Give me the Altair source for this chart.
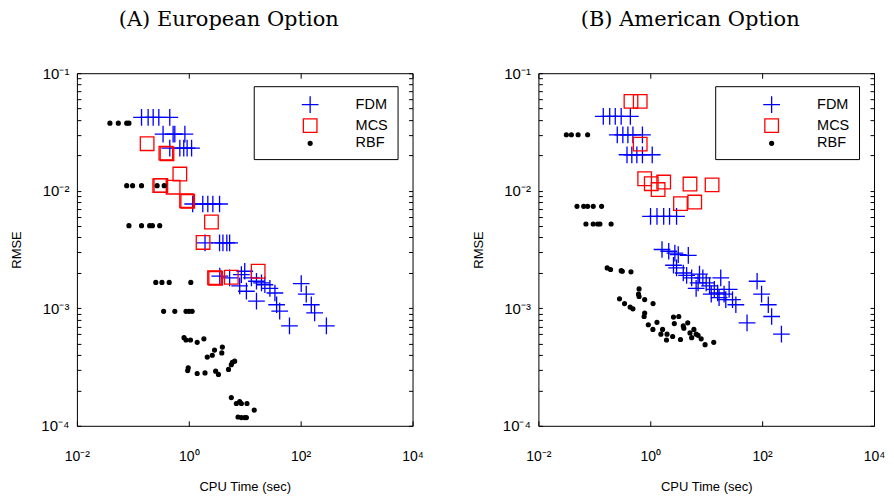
import altair as alt
import pandas as pd

# ---- Data (log10 values) ----
# Panel A: European option
a_fdm_lx = [-0.845, -0.727, -0.637, -0.536, -0.34,
            -0.46, -0.28, -0.25, -0.07,
            -0.34, -0.16, -0.09, -0.03, 0.05,
            0.07, 0.25, 0.34, 0.43, 0.55,
            0.29, 0.55, 0.61, 0.68, 0.73,
            0.554, 0.73, 0.94, 1.0, 1.12, 1.21, 1.30, 1.36, 0.91, 1.03, 1.45,
            1.54, 1.57, 1.625, 1.21, 1.80, 2.01, 2.10, 2.19, 2.25, 2.46]
a_fdm_ly = [-1.376, -1.376, -1.376, -1.376, -1.376,
            -1.518, -1.518, -1.518, -1.518,
            -1.637, -1.637, -1.637, -1.637, -1.637,
            -2.113, -2.113, -2.113, -2.113, -2.113,
            -2.444, -2.444, -2.444, -2.444, -2.444,
            -2.727, -2.742, -2.714, -2.685, -2.742, -2.77, -2.784, -2.80, -2.81, -2.855, -2.83,
            -2.87, -2.97, -3.025, -2.94, -3.15, -2.79, -2.88, -2.97, -3.04, -3.15]

a_mcs_lx = [-0.745, -0.41, -0.39, -0.16, -0.52, -0.50, -0.28, -0.04, -0.02, 0.405, 0.255,
            0.46, 0.48, 0.76, 1.24]
a_mcs_ly = [-1.60, -1.68, -1.685, -1.858, -1.957, -1.955, -1.97, -2.085, -2.09, -2.266, -2.44,
            -2.74, -2.745, -2.736, -2.685]

a_rbf_lx = [-1.41, -1.26, -1.11, -1.07,
            -1.11, -1.005, -0.845, -0.566, -0.44,
            -1.07, -0.845, -0.70, -0.65, -0.52,
            -0.59, -0.48, -0.35, 0.036,
            -0.45, -0.25, -0.05, 0.005, 0.06,
            -0.085, -0.05, 0.03, 0.15, 0.27,
            0.33, 0.42, 0.46, 0.60, 0.59,
            -0.01, -0.02, 0.15, 0.29, 0.48, 0.53, 0.71, 0.76, 0.82, 0.78,
            0.76, 0.85, 0.91, 0.94, 1.04, 1.17, 0.88, 0.94, 1.0, 1.03]
a_rbf_ly = [-1.425, -1.425, -1.425, -1.425,
            -1.957, -1.957, -1.957, -1.957, -1.957,
            -2.297, -2.297, -2.297, -2.297, -2.297,
            -2.78, -2.78, -2.78, -2.78,
            -3.026, -3.026, -3.026, -3.026, -3.026,
            -3.25, -3.27, -3.27, -3.29, -3.26,
            -3.415, -3.40, -3.356, -3.33, -3.38,
            -3.506, -3.53, -3.555, -3.55, -3.535, -3.563, -3.52, -3.48, -3.45, -3.46,
            -3.76, -3.81, -3.795, -3.81, -3.81, -3.866, -3.925, -3.93, -3.93, -3.93]

# Panel B: American option
b_fdm_lx = [-0.84, -0.725, -0.626, -0.52, -0.356,
            -0.59, -0.49, -0.40, -0.31, -0.14,
            -0.416, -0.33, -0.24, -0.14, 0.035,
            0.005, 0.12, 0.24, 0.345, 0.47,
            0.21, 0.33, 0.44, 0.50, 0.68, 0.415, 0.47, 0.59, 0.65, 0.74, 0.88,
            0.94, 0.855, 1.0, 1.06, 1.145, 1.26, 1.205, 1.32, 1.41, 1.47, 1.53,
            1.73, 1.91, 1.99, 2.11, 2.17, 2.345, 0.82, 1.09, 1.23, 1.35]
b_fdm_ly = [-1.368, -1.368, -1.368, -1.368, -1.368,
            -1.524, -1.524, -1.524, -1.524, -1.524,
            -1.694, -1.694, -1.694, -1.694, -1.694,
            -2.218, -2.218, -2.218, -2.218, -2.218,
            -2.50, -2.515, -2.53, -2.544, -2.55, -2.634, -2.657, -2.70, -2.72, -2.742, -2.71,
            -2.742, -2.784, -2.784, -2.81, -2.84, -2.742, -2.87, -2.88, -2.84, -2.926, -2.97,
            -3.124, -2.77, -2.88, -2.97, -3.07, -3.22, -2.83, -2.88, -2.91, -2.926]

b_mcs_lx = [-0.345, -0.18, -0.18, -0.10, 0.018, 0.14, 0.24, 0.71, 1.105, 0.54, 0.795]
b_mcs_ly = [-1.24, -1.24, -1.603, -1.898, -1.94, -1.99, -1.926, -1.943, -1.95, -2.11, -2.096]

b_rbf_lx = [-1.50, -1.41, -1.29, -1.12,
            -1.31, -1.19, -1.12, -1.02, -0.87,
            -1.15, -1.02, -0.94, -0.90, -0.70,
            -0.77, -0.71, -0.52, -0.50, -0.345,
            -0.2, -0.21, -0.2, -0.1, 0.05,
            -0.55, -0.46, -0.36, -0.31,
            -0.10, -0.11, -0.035, 0.047, 0.12, 0.22, 0.19, 0.30, 0.29, 0.40, 0.415,
            0.51, 0.43, 0.54, 0.59, 0.60, 0.67, 0.71, 0.74, 0.78, 0.82, 0.855, 0.91, 0.98, 1.135]
b_rbf_ly = [-1.524, -1.524, -1.524, -1.524,
            -2.133, -2.133, -2.133, -2.133, -2.133,
            -2.283, -2.283, -2.283, -2.283, -2.283,
            -2.657, -2.67, -2.68, -2.685, -2.69,
            -2.835, -2.88, -2.90, -2.926, -2.96,
            -2.92, -2.96, -2.99, -3.005,
            -3.04, -3.07, -3.14, -3.18, -3.12, -3.18, -3.22, -3.22, -3.27, -3.24, -3.075,
            -3.07, -3.13, -3.266, -3.15, -3.17, -3.124, -3.21, -3.25, -3.18, -3.22, -3.23, -3.26, -3.31, -3.29]

methods = ["FDM", "MCS", "RBF"]
colors = ["#0000ff", "#ff0000", "#000000"]
fills = ["transparent", "transparent", "#000000"]
shapes = ["M-1,0H1M0,-1V1", "square", "circle"]
sizes = [280, 185, 15]

x_ticks = [0.01, 1, 100, 10000]
y_ticks = [m * 10.0 ** k for k in (-4, -3, -2) for m in range(1, 10)] + [0.1]


def frame(lx, ly, name):
    return pd.DataFrame({"t": [10 ** v for v in lx], "e": [10 ** v for v in ly], "method": name})


def panel(parts, title, w):
    df = pd.concat([frame(*p) for p in parts], ignore_index=True)
    xs = alt.Scale(type="log", domain=[0.01, 10000], nice=False)
    ys = alt.Scale(type="log", domain=[0.0001, 0.1], nice=False)
    x_lab = ("datum.value < 0.1 ? '10\u207b\u00b2' : datum.value < 10 ? '10\u2070' : "
             "datum.value < 1000 ? '10\u00b2' : '10\u2074'")
    y_lab = ("abs(log(datum.value)/log(10) - round(log(datum.value)/log(10))) > 0.001 ? '' : "
             "datum.value > 0.05 ? '10\u207b\u00b9' : datum.value > 0.005 ? '10\u207b\u00b2' : "
             "datum.value > 0.0005 ? '10\u207b\u00b3' : '10\u207b\u2074'")
    leg = alt.Legend(title=None, orient="none", legendX=w - 159, legendY=13,
                     strokeColor="black", fillColor="white", padding=9,
                     symbolOffset=38, labelOffset=36, rowPadding=0,
                     labelFontSize=14.5, labelFont="Liberation Sans",
                     labelColor="black", cornerRadius=0, symbolStrokeWidth=1.3)
    pts = alt.Chart(df).mark_point(opacity=1, strokeWidth=1.3, filled=False).encode(
        x=alt.X("t:Q", scale=xs, title="CPU Time (sec)",
                axis=alt.Axis(values=x_ticks, labelExpr=x_lab, orient="bottom", offset=-5,
                              tickSize=5, domain=False, grid=False, labelPadding=24,
                              labelFlush=False,
                              labelFontSize=14, titleFontSize=13, titlePadding=17,
                              labelFont="Liberation Sans", titleFont="Liberation Sans",
                              titleFontWeight="normal", tickColor="black", labelColor="black",
                              titleColor="black")),
        y=alt.Y("e:Q", scale=ys, title="RMSE",
                axis=alt.Axis(values=y_ticks, labelExpr=y_lab, orient="left", offset=-4,
                              tickSize=4, domain=False, grid=False, labelPadding=8,
                              labelFlush=False,
                              labelFontSize=15, titleFontSize=13, titlePadding=17,
                              labelFont="Liberation Sans", titleFont="Liberation Sans",
                              titleFontWeight="normal", tickColor="black", labelColor="black",
                              titleColor="black")),
        stroke=alt.Stroke("method:N", scale=alt.Scale(domain=methods, range=colors), legend=leg),
        fill=alt.Fill("method:N", scale=alt.Scale(domain=methods, range=fills), legend=leg),
        shape=alt.Shape("method:N", scale=alt.Scale(domain=methods, range=shapes), legend=leg),
        size=alt.Size("method:N", scale=alt.Scale(type="ordinal", domain=methods, range=sizes),
                      legend=leg),
    )
    mirror = alt.Chart(df).mark_point(opacity=0).encode(
        x=alt.X("t:Q", scale=xs, title=None,
                axis=alt.Axis(values=x_ticks, labels=False, orient="top", offset=-5, tickSize=5,
                              domain=False, grid=False, tickColor="black")),
        y=alt.Y("e:Q", scale=ys, title=None,
                axis=alt.Axis(values=y_ticks, labels=False, orient="right", offset=-4, tickSize=4,
                              domain=False, grid=False, tickColor="black")),
    )
    return alt.layer(pts, mirror).resolve_axis(x="independent", y="independent").properties(
        width=w, height=353,
        title=alt.Title(title, font="DejaVu Serif", fontSize=21, fontWeight="normal",
                        offset=36, color="black", anchor="middle", dx=-16),
    )


left = panel([(a_fdm_lx, a_fdm_ly, "FDM"), (a_mcs_lx, a_mcs_ly, "MCS"), (a_rbf_lx, a_rbf_ly, "RBF")],
             "(A) European Option", 336)
right = panel([(b_fdm_lx, b_fdm_ly, "FDM"), (b_mcs_lx, b_mcs_ly, "MCS"), (b_rbf_lx, b_rbf_ly, "RBF")],
              "(B) American Option", 336)

chart = alt.hconcat(left, right, spacing=47).resolve_legend(
    stroke="independent", shape="independent", size="independent", fill="independent"
).resolve_scale(
    stroke="independent", shape="independent", size="independent", fill="independent"
).configure_view(stroke="black", strokeWidth=1).properties(
    padding={"left": 2, "top": 0, "right": 0, "bottom": 0}, background="white"
)

chart.save("out.html", embed_options={"renderer": "svg", "actions": False})
